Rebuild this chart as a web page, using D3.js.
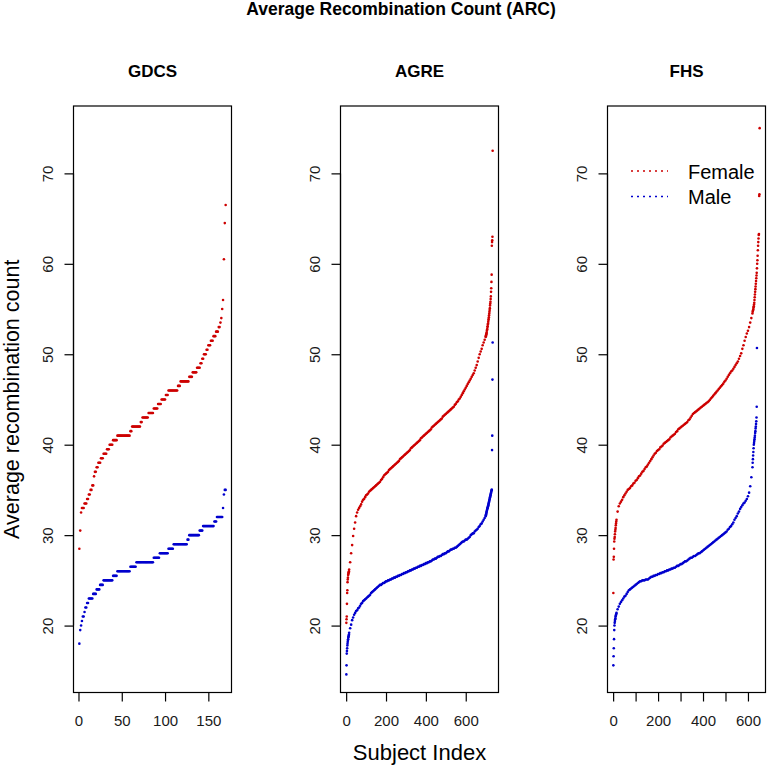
<!DOCTYPE html>
<html>
<head>
<meta charset="utf-8">
<title>Average Recombination Count (ARC)</title>
<script src="https://d3js.org/d3.v7.min.js"></script>
<style>
  body { margin: 0; background: #fff; }
  svg { display: block; font-family: "Liberation Sans", Arial, Helvetica, sans-serif; }
</style>
</head>
<body>
<svg class="chart"></svg>
<script>
// ---- data (sorted per-subject averages) ----
var panelNames = ["GDCS", "AGRE", "FHS"];
var seriesNames = ["Female", "Male"];
var yTicks = [20, 30, 40, 50, 60, 70];
var gdcsTicks = [0, 50, 100, 150];
var agreTicks = [0, 200, 400, 600];
var fhsTicks = [0, 100, 200, 300, 400, 500, 600];
var fhsTickLabels = [0, 200, 400, 600];

// GDCS values come in half-unit steps: value / how many subjects share it
var gdcsFemaleVals = [28.5, 30.5, 32.5, 33, 33.5, 34, 34.5, 35, 35.5, 36.5, 37, 37.5, 38, 38.5, 39, 39.5, 40, 40.5, 41, 41.5,
  42, 42.5, 43, 43.5, 44, 44.5, 45, 45.5, 46, 46.5, 47, 47.5, 48, 48.5, 49, 49.5, 50, 50.5, 51, 51.5,
  52, 52.5, 53, 53.5, 54, 55, 56, 60.5, 64.5, 66.5];
var gdcsFemaleCounts = [1, 1, 1, 3, 3, 2, 2, 2, 2, 1, 2, 2, 3, 3, 4, 3, 4, 5, 15, 2,
  10, 2, 7, 6, 5, 4, 5, 3, 11, 3, 10, 4, 5, 4, 2, 2, 3, 2, 3, 3,
  3, 3, 2, 1, 1, 1, 1, 1, 1, 1];
var gdcsMaleVals = [18, 19.5, 20, 20.5, 21, 21.5, 22, 22.5, 23, 23.5, 24, 24.5, 25, 25.5, 26, 26.5, 27, 27.5, 28, 28.5,
  29, 29.5, 30, 30.5, 31, 31.5, 32, 33, 34.5, 35];
var gdcsMaleCounts = [1, 1, 1, 1, 2, 1, 2, 2, 5, 4, 4, 4, 11, 5, 15, 7, 20, 7, 10, 6,
  16, 2, 12, 4, 13, 3, 7, 1, 1, 2];

// AGRE / FHS: ranks 1-15 one by one, then every 5th rank from 20, then the top ranks one by one
var agreFemaleHead = [20.3, 20.7, 21.0, 22.4, 23.6, 23.9, 24.8, 25.1, 25.3, 25.6, 25.7, 25.8, 25.9, 26.0, 26.2];
var agreFemaleBulk = [27.0, 28.0, 28.9, 29.9, 30.7, 31.4, 32.1, 32.5, 32.8, 33.0, 33.2, 33.4, 33.7, 33.9, 34.0, 34.2, 34.4, 34.5, 34.6, 34.8,
  34.9, 35.0, 35.1, 35.2, 35.3, 35.4, 35.5, 35.6, 35.7, 35.8, 35.9, 36.1, 36.2, 36.4, 36.6, 36.7, 36.8, 36.9, 37.0, 37.2,
  37.3, 37.4, 37.5, 37.6, 37.7, 37.8, 37.9, 38.0, 38.1, 38.2, 38.4, 38.5, 38.6, 38.7, 38.8, 38.9, 39.0, 39.1, 39.2, 39.3,
  39.4, 39.6, 39.7, 39.8, 39.9, 40.0, 40.1, 40.2, 40.3, 40.4, 40.5, 40.7, 40.8, 40.9, 41.0, 41.1, 41.2, 41.3, 41.4, 41.5,
  41.6, 41.7, 41.9, 42.0, 42.1, 42.2, 42.3, 42.4, 42.5, 42.6, 42.7, 42.8, 42.9, 43.1, 43.2, 43.3, 43.4, 43.5, 43.6, 43.7,
  43.8, 43.9, 44.0, 44.1, 44.2, 44.4, 44.5, 44.7, 44.8, 45.0, 45.1, 45.3, 45.5, 45.7, 45.9, 46.1, 46.3, 46.5, 46.7, 46.9,
  47.1, 47.3, 47.5, 47.7, 47.9, 48.2, 48.5, 48.8, 49.2, 49.6, 50.0, 50.3, 50.6, 51.0, 51.3, 51.6, 51.9];
var agreFemaleTail = [52.0, 52.1, 52.2, 52.3, 52.4, 52.6, 52.7, 52.8, 53.0, 53.1, 53.3, 53.4, 53.6, 53.8, 53.9, 54.1, 54.3, 54.5, 54.7, 54.9,
  55.1, 55.4, 55.6, 55.8, 56.1, 56.4, 56.9, 57.3, 58.0, 58.8, 62.0, 62.4, 62.6, 63.0, 72.5];
var agreMaleHead = [14.6, 15.6, 16.9, 17.2, 17.5, 17.8, 18.0, 18.2, 18.4, 18.5, 18.7, 18.8, 18.9, 19.0, 19.2];
var agreMaleBulk = [19.7, 20.1, 20.6, 20.9, 21.2, 21.4, 21.6, 21.7, 21.9, 22.0, 22.2, 22.4, 22.5, 22.7, 22.8, 22.9, 23.0, 23.1, 23.2, 23.3,
  23.4, 23.6, 23.7, 23.8, 23.9, 24.0, 24.1, 24.2, 24.3, 24.4, 24.5, 24.5, 24.6, 24.7, 24.7, 24.8, 24.9, 24.9, 25.0, 25.0,
  25.1, 25.1, 25.2, 25.2, 25.3, 25.3, 25.4, 25.4, 25.5, 25.5, 25.6, 25.6, 25.7, 25.7, 25.8, 25.8, 25.9, 25.9, 26.0, 26.0,
  26.1, 26.1, 26.2, 26.2, 26.3, 26.3, 26.4, 26.4, 26.5, 26.5, 26.6, 26.6, 26.7, 26.7, 26.8, 26.8, 26.9, 26.9, 27.0, 27.0,
  27.1, 27.1, 27.2, 27.3, 27.3, 27.4, 27.4, 27.5, 27.6, 27.6, 27.7, 27.7, 27.8, 27.9, 27.9, 28.0, 28.0, 28.1, 28.2, 28.2,
  28.3, 28.4, 28.4, 28.5, 28.5, 28.6, 28.6, 28.7, 28.8, 28.9, 29.0, 29.1, 29.2, 29.3, 29.3, 29.4, 29.5, 29.5, 29.6, 29.7,
  29.8, 30.0, 30.1, 30.2, 30.2, 30.4, 30.5, 30.6, 30.7, 30.9, 31.0, 31.2, 31.3, 31.5, 31.7, 31.9, 32.1];
var agreMaleTail = [32.2, 32.3, 32.4, 32.5, 32.6, 32.7, 32.8, 32.9, 33.0, 33.0, 33.1, 33.2, 33.3, 33.4, 33.5, 33.6, 33.7, 33.8, 33.9, 34.0,
  34.1, 34.2, 34.3, 34.4, 34.5, 34.6, 34.7, 34.8, 34.9, 35.0, 35.0, 39.4, 41.0, 47.2, 51.3];

var fhsFemaleHead = [23.6, 27.3, 27.6, 28.5, 29.3, 29.6, 29.8, 30.1, 30.4, 30.6, 30.8, 31.1, 31.3, 31.5, 31.7];
var fhsFemaleBulk = [32.6, 33.2, 33.5, 33.7, 33.9, 34.2, 34.4, 34.6, 34.8, 35.0, 35.1, 35.2, 35.4, 35.5, 35.7, 35.8, 36.0, 36.1, 36.3, 36.5,
  36.6, 36.8, 37.0, 37.1, 37.3, 37.5, 37.6, 37.8, 38.0, 38.2, 38.4, 38.6, 38.8, 39.0, 39.1, 39.3, 39.4, 39.5, 39.7, 39.8,
  39.9, 40.1, 40.2, 40.3, 40.4, 40.5, 40.6, 40.8, 40.9, 41.0, 41.1, 41.2, 41.4, 41.5, 41.7, 41.8, 41.9, 42.0, 42.1, 42.2,
  42.3, 42.4, 42.5, 42.7, 42.8, 43.0, 43.2, 43.4, 43.5, 43.6, 43.7, 43.8, 43.9, 44.0, 44.1, 44.2, 44.3, 44.4, 44.5, 44.6,
  44.7, 44.8, 44.95, 45.1, 45.25, 45.4, 45.55, 45.7, 45.85, 46.0, 46.15, 46.3, 46.45, 46.6, 46.75, 46.95, 47.1, 47.3, 47.5, 47.7,
  47.9, 48.1, 48.2, 48.4, 48.6, 48.8, 49.0, 49.2, 49.5, 49.8, 50.1, 50.6, 51.0, 51.5, 51.9, 52.3, 52.6, 53.0, 53.5, 54.0,
  54.5];
var fhsFemaleTail = [54.7, 54.8, 54.9, 55.0, 55.2, 55.3, 55.5, 55.7, 56.0, 56.3, 56.6, 56.9, 57.2, 57.5, 57.8, 58.1, 58.4, 58.7, 59.0, 59.5,
  60.0, 60.4, 60.9, 61.5, 62.0, 62.4, 62.8, 63.2, 63.3, 67.5, 67.7, 75.0];
var fhsMaleHead = [15.6, 16.6, 17.5, 18.5, 19.5, 20.0, 20.3, 20.5, 20.7, 20.8, 21.0, 21.1, 21.2, 21.3, 21.4];
var fhsMaleBulk = [21.8, 22.1, 22.4, 22.6, 22.8, 23.0, 23.2, 23.3, 23.5, 23.7, 23.9, 24.0, 24.1, 24.2, 24.3, 24.4, 24.5, 24.6, 24.7, 24.8,
  24.9, 24.9, 25.0, 25.0, 25.0, 25.1, 25.1, 25.1, 25.2, 25.3, 25.4, 25.4, 25.5, 25.5, 25.6, 25.6, 25.7, 25.7, 25.8, 25.8,
  25.9, 25.9, 26.0, 26.0, 26.1, 26.1, 26.2, 26.2, 26.3, 26.3, 26.4, 26.4, 26.5, 26.6, 26.6, 26.7, 26.8, 26.8, 26.9, 27.0,
  27.1, 27.1, 27.2, 27.3, 27.4, 27.5, 27.5, 27.6, 27.7, 27.7, 27.8, 27.9, 28.0, 28.0, 28.1, 28.2, 28.3, 28.4, 28.5, 28.6,
  28.7, 28.8, 28.9, 29.0, 29.1, 29.2, 29.3, 29.4, 29.5, 29.6, 29.7, 29.8, 29.9, 30.0, 30.1, 30.2, 30.3, 30.4, 30.6, 30.7,
  30.9, 31.0, 31.2, 31.4, 31.7, 31.9, 32.1, 32.4, 32.6, 32.9, 33.1, 33.3, 33.5, 33.6, 33.8, 34.0, 34.3, 34.7, 35.4, 36.4,
  37.5];
var fhsMaleTail = [38.0, 38.4, 38.8, 39.2, 39.6, 40.0, 40.2, 40.4, 40.6, 40.8, 41.0, 41.3, 41.5, 41.8, 42.0, 42.3, 42.6, 43.0, 44.2, 50.7];

// ---- turn the arrays into (rank, value) points ----
function fromRuns(vals, counts) {
  var out = [], r = 1;
  vals.forEach(function(v, k) {
    for (var j = 0; j < counts[k]; j++) out.push({ i: r++, v: v });
  });
  return out;
}
function fromParts(head, bulk, tail) {
  var out = [];
  head.forEach(function(v, k) { out.push({ i: k + 1, v: v }); });
  bulk.forEach(function(v, k) { out.push({ i: 20 + 5 * k, v: v }); });
  var t0 = 20 + 5 * (bulk.length - 1) + 1;
  tail.forEach(function(v, k) { out.push({ i: t0 + k, v: v }); });
  return out;
}

var panels = [
  { name: panelNames[0], series: [fromRuns(gdcsFemaleVals, gdcsFemaleCounts), fromRuns(gdcsMaleVals, gdcsMaleCounts)],
    ticks: gdcsTicks, labels: gdcsTicks },
  { name: panelNames[1], series: [fromParts(agreFemaleHead, agreFemaleBulk, agreFemaleTail), fromParts(agreMaleHead, agreMaleBulk, agreMaleTail)],
    ticks: agreTicks, labels: agreTicks },
  { name: panelNames[2], series: [fromParts(fhsFemaleHead, fhsFemaleBulk, fhsFemaleTail), fromParts(fhsMaleHead, fhsMaleBulk, fhsMaleTail)],
    ticks: fhsTicks, labels: fhsTickLabels }
];

var colors = ["#cd0000", "#0000cd"];

// ---- layout ----
var W = 768, H = 766;
var panelLeft = [73.5, 340.5, 607.5];
var panelW = 158;
var plotTop = 106, plotBottom = 692.5;
var tickLen = 9;

var svg = d3.select(".chart").attr("width", W).attr("height", H);

var y = d3.scaleLinear().domain([12.6, 77.45]).range([plotBottom, plotTop]);

// overall title
svg.append("text")
  .attr("x", 401).attr("y", 14.5)
  .attr("text-anchor", "middle")
  .style("font-size", "17.5px").style("font-weight", "bold")
  .text("Average Recombination Count (ARC)");

panels.forEach(function(p, k) {
  var left = panelLeft[k];
  var n = d3.max(p.series, function(s) { return d3.max(s, function(d) { return d.i; }); });
  var pad = 0.04 * (n - 1);
  var x = d3.scaleLinear().domain([1 - pad, n + pad]).range([left, left + panelW]);

  var g = svg.append("g");

  // panel title
  g.append("text")
    .attr("x", left + panelW / 2).attr("y", 77)
    .attr("text-anchor", "middle")
    .style("font-size", "17px").style("font-weight", "bold")
    .text(p.name);

  // points
  p.series.forEach(function(s, si) {
    g.append("g").selectAll("circle")
      .data(s)
      .enter().append("circle")
      .attr("cx", function(d) { return x(d.i); })
      .attr("cy", function(d) { return y(d.v); })
      .attr("r", 1.3)
      .attr("fill", colors[si]);
  });

  // box
  g.append("rect")
    .attr("x", left).attr("y", plotTop)
    .attr("width", panelW).attr("height", plotBottom - plotTop)
    .attr("fill", "none").attr("stroke", "#000").attr("stroke-width", 1.2);

  // bottom axis
  var xAxis = d3.axisBottom(x)
    .tickValues(p.ticks)
    .tickSize(tickLen)
    .tickSizeOuter(0)
    .tickFormat(function(d) { return p.labels.indexOf(d) >= 0 ? d : ""; });
  var xa = g.append("g")
    .attr("transform", "translate(0," + plotBottom + ")")
    .call(xAxis);
  xa.select(".domain")
    .attr("d", "M" + x(p.ticks[0]) + ",0H" + x(p.ticks[p.ticks.length - 1]))
    .attr("stroke-width", 1.2);
  xa.selectAll(".tick line").attr("stroke-width", 1.2);
  xa.selectAll(".tick text")
    .attr("y", 33.5).attr("dy", null)
    .style("font-size", "15px")
    .style("font-family", "'Liberation Sans', Arial, sans-serif")
    .attr("fill", "#1a1a1a");

  // left axis, labels turned like R's
  var yAxis = d3.axisLeft(y).tickValues(yTicks).tickSize(tickLen).tickSizeOuter(0);
  var ya = g.append("g")
    .attr("transform", "translate(" + left + ",0)")
    .call(yAxis);
  ya.select(".domain")
    .attr("d", "M0," + y(yTicks[0]) + "V" + y(yTicks[yTicks.length - 1]))
    .attr("stroke-width", 1.2);
  ya.selectAll(".tick line").attr("stroke-width", 1.2);
  ya.selectAll(".tick text")
    .attr("x", null).attr("dy", null).attr("y", null)
    .attr("text-anchor", "middle")
    .attr("transform", "translate(-20.2,0) rotate(-90)")
    .style("font-size", "15px")
    .style("font-family", "'Liberation Sans', Arial, sans-serif")
    .attr("fill", "#1a1a1a");
});

// axis titles
svg.append("text")
  .attr("transform", "translate(19," + (plotTop + plotBottom) / 2 + ") rotate(-90)")
  .attr("text-anchor", "middle")
  .style("font-size", "21.5px")
  .text("Average recombination count");

svg.append("text")
  .attr("x", panelLeft[1] + panelW / 2).attr("y", 760)
  .attr("text-anchor", "middle")
  .style("font-size", "22px")
  .text("Subject Index");

// legend inside the FHS panel
var legend = svg.append("g");
seriesNames.forEach(function(name, k) {
  var ly = 171 + k * 25.5;
  legend.append("line")
    .attr("x1", 631).attr("x2", 668)
    .attr("y1", ly).attr("y2", ly)
    .attr("stroke", colors[k]).attr("stroke-width", 1.6)
    .attr("stroke-dasharray", "2,4");
  legend.append("text")
    .attr("x", 688).attr("y", ly + 7.5)
    .style("font-size", "20px")
    .text(name);
});
</script>
</body>
</html>
